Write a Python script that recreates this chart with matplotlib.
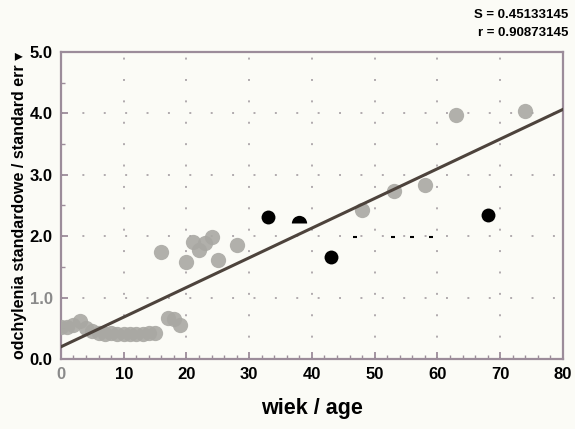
import matplotlib
matplotlib.use("Agg")
import matplotlib.pyplot as plt
import numpy as np
from matplotlib.ticker import MultipleLocator
from matplotlib.markers import MarkerStyle

plt.rcParams["font.family"] = ["Liberation Sans", "DejaVu Sans"]

# grey data points
grey_age = [0, 1, 2, 3, 4, 5, 6, 7, 8, 9, 10, 11, 12, 13, 14, 15,
            16, 17, 18, 19, 20, 21, 22, 23, 24, 25, 28, 48, 53, 58, 63, 74]
grey_sd = [0.52, 0.52, 0.56, 0.62, 0.5, 0.46, 0.42, 0.4, 0.42, 0.4, 0.4, 0.4, 0.4, 0.4, 0.43, 0.42,
           1.74, 0.67, 0.65, 0.56, 1.58, 1.9, 1.78, 1.89, 1.99, 1.61, 1.86, 2.42, 2.73, 2.84, 3.97, 4.04]

# black data points
black_age = [33, 43, 68]
black_sd = [2.31, 1.66, 2.35]
half_age = [38]
half_sd = [2.22]

# small black specks near 2.0
speck_age = [46.9, 52.9, 55.9, 59.0]
speck_sd = [1.99, 1.99, 1.99, 1.99]

# regression line
fit_intercept = 0.20
fit_slope = 0.0483
fit_x = [0, 80]

stats_lines = ["S = 0.45133145", "r = 0.90873145"]
xticks = [0, 10, 20, 30, 40, 50, 60, 70, 80]
yticks = [0.0, 1.0, 2.0, 3.0, 4.0, 5.0]
ytick_labels = ["0.0", "1.0", "2.0", "3.0", "4.0", "5.0"]

bg = "#fbfbf6"
spine_col = "#9c8c9a"

fig = plt.figure(figsize=(5.75, 4.29), dpi=100, facecolor=bg)
ax = fig.add_axes([0.106, 0.163, 0.873, 0.716])
ax.set_facecolor(bg)

ax.set_xlim(0, 80)
ax.set_ylim(0, 5)

# grid
ax.grid(True, which="major", color="#b0aaae", linestyle=(0, (1, 10)), linewidth=1.4)

ax.plot(grey_age, grey_sd, "o", color="#a9a8a3", markersize=11, markeredgewidth=0,
        alpha=0.9, zorder=3)
ax.plot(black_age, black_sd, "o", color="black", markersize=10, markeredgewidth=0, zorder=4)
ax.plot(half_age, half_sd, linestyle="none",
        marker=MarkerStyle("o", fillstyle="top"), markersize=11,
        markerfacecolor="black", markerfacecoloralt="none", markeredgewidth=0, zorder=4)
ax.plot(speck_age, speck_sd, "_", color="black", markersize=3, markeredgewidth=1.5, zorder=4)

fx = np.array(fit_x, dtype=float)
ax.plot(fx, fit_intercept + fit_slope * fx, color="#4d433c", linewidth=2.2, zorder=5)

for s in ax.spines.values():
    s.set_color(spine_col)
    s.set_linewidth(1.6)

ax.set_xticks(xticks)
ax.set_xticklabels([str(v) for v in xticks])
ax.set_yticks(yticks)
ax.set_yticklabels(ytick_labels)
ax.xaxis.set_minor_locator(MultipleLocator(2))
ax.yaxis.set_minor_locator(MultipleLocator(0.5))
ax.tick_params(axis="both", which="both", color=spine_col, direction="in")
ax.tick_params(axis="both", which="major", length=5, width=1.3, labelsize=12, pad=6)
ax.tick_params(axis="both", which="minor", length=3, width=1.0)
for lab in ax.get_xticklabels() + ax.get_yticklabels():
    lab.set_fontweight("bold")
ax.get_xticklabels()[0].set_color("#8a8a8a")
ax.get_yticklabels()[1].set_color("#8a8a8a")

ax.set_xlabel("wiek / age", fontsize=15.5, fontweight="bold", labelpad=11)
ax.set_ylabel("odchylenia standardowe / standard err \u25be", fontsize=11.5,
              fontweight="bold", labelpad=2)

fig.text(0.988, 0.978, stats_lines[0], ha="right", va="top", fontsize=9.5, fontweight="bold")
fig.text(0.988, 0.937, stats_lines[1], ha="right", va="top", fontsize=9.5, fontweight="bold")

fig.savefig("out.png", dpi=100, facecolor=bg)
